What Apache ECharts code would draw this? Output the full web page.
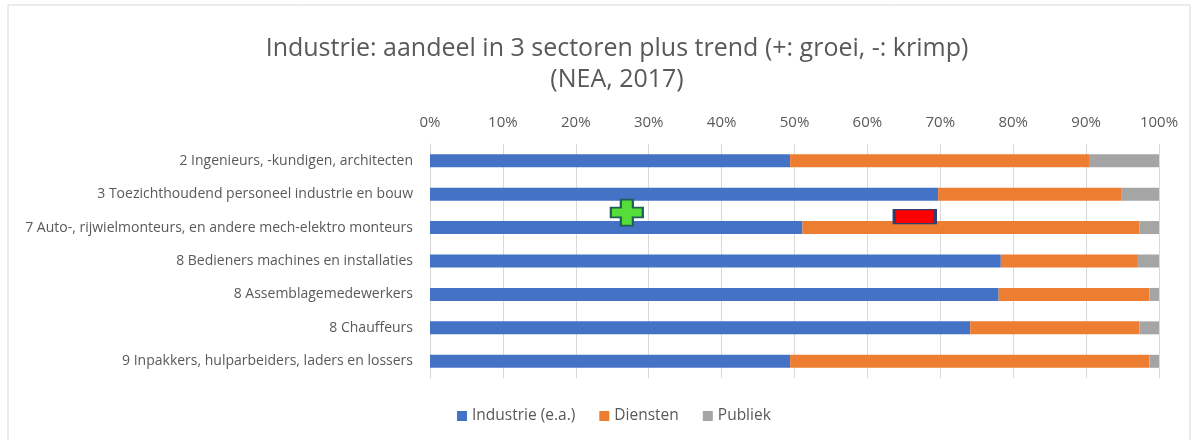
<!DOCTYPE html>
<html><head><meta charset="utf-8">
<script src="https://cdn.jsdelivr.net/npm/echarts@6/dist/echarts.min.js"></script>
<style>html,body{margin:0;padding:0;background:#fff}#c{width:1195px;height:440px}</style>
</head><body><div id="c"></div>
<script>
const categories = [
  '2 Ingenieurs, -kundigen, architecten',
  '3 Toezichthoudend personeel industrie en bouw',
  '7 Auto-, rijwielmonteurs, en andere mech-elektro monteurs',
  '8 Bedieners machines en installaties',
  '8 Assemblagemedewerkers',
  '8 Chauffeurs',
  '9 Inpakkers, hulparbeiders, laders en lossers'
];
const industrie = [49.4, 69.7, 51.1, 78.3, 78.0, 74.1, 49.4];
const diensten  = [41.0, 25.1, 46.2, 18.8, 20.7, 23.2, 49.3];
const publiek   = [9.6, 5.2, 2.7, 2.9, 1.3, 2.7, 1.3];
const xTicks = [0, 10, 20, 30, 40, 50, 60, 70, 80, 90, 100];
// trend annotations: [x value (%), category]
const trendPlus  = [27, categories[2]];
const trendMinus = [66.5, categories[2]];

const chart = echarts.init(document.getElementById('c'));
const font = '"Open Sans", sans-serif';
const plusPath = 'path://M2.5,0 L5.5,0 L5.5,2.5 L8,2.5 L8,5.5 L5.5,5.5 L5.5,8 L2.5,8 L2.5,5.5 L0,5.5 L0,2.5 L2.5,2.5 Z';
chart.setOption({
  animation: false,
  textStyle: { fontFamily: font },
  title: {
    text: 'Industrie: aandeel in 3 sectoren plus trend (+: groei, -: krimp)\n(NEA, 2017)',
    left: 612, top: 28, textAlign: 'center',
    textStyle: { fontSize: 25, fontWeight: 'normal', color: '#595959', lineHeight: 31, fontFamily: font }
  },
  legend: {
    bottom: 11, left: 452, itemWidth: 10, itemHeight: 10, itemGap: 24,
    icon: 'rect',
    textStyle: { fontSize: 15.5, color: '#595959', fontFamily: font },
    data: ['Industrie (e.a.)', 'Diensten', 'Publiek']
  },
  grid: { left: 430, right: 36, top: 144, height: 234 },
  xAxis: {
    type: 'value', min: 0, max: 100, interval: 10, position: 'top',
    axisLine: { show: false }, axisTick: { show: false },
    axisLabel: { formatter: v => xTicks.includes(v) ? v + '%' : '', color: '#595959', fontSize: 15, margin: 14 },
    splitLine: { lineStyle: { color: '#d9d9d9' } }
  },
  yAxis: {
    type: 'category', data: categories, inverse: true,
    axisLine: { lineStyle: { color: '#d9d9d9' } }, axisTick: { show: false },
    axisLabel: { color: '#595959', fontSize: 14, margin: 17 }
  },
  series: [
    { name: 'Industrie (e.a.)', type: 'bar', stack: 's', data: industrie, barWidth: 13, itemStyle: { color: '#4472c4' },
      markPoint: {
        label: { show: false },
        data: [
          { coord: trendPlus, symbol: plusPath, symbolKeepAspect: false, symbolSize: [32, 26], symbolOffset: [0, -15],
            itemStyle: { color: '#55dd3a', borderColor: '#1f5f55', borderWidth: 2 } },
          { coord: trendMinus, symbol: 'rect', symbolSize: [41, 14], symbolOffset: [0, -11],
            itemStyle: { color: '#ff0000', borderColor: '#2f3f6f', borderWidth: 2 } }
        ]
      } },
    { name: 'Diensten', type: 'bar', stack: 's', data: diensten, barWidth: 13, itemStyle: { color: '#ed7d31' } },
    { name: 'Publiek', type: 'bar', stack: 's', data: publiek, barWidth: 13, itemStyle: { color: '#a5a5a5' } }
  ],
  graphic: [{ type: 'rect', shape: { x: 8, y: 5, width: 1182, height: 440 }, style: { fill: 'none', stroke: '#d9d9d9', lineWidth: 1 }, silent: true }]
});
</script></body></html>
